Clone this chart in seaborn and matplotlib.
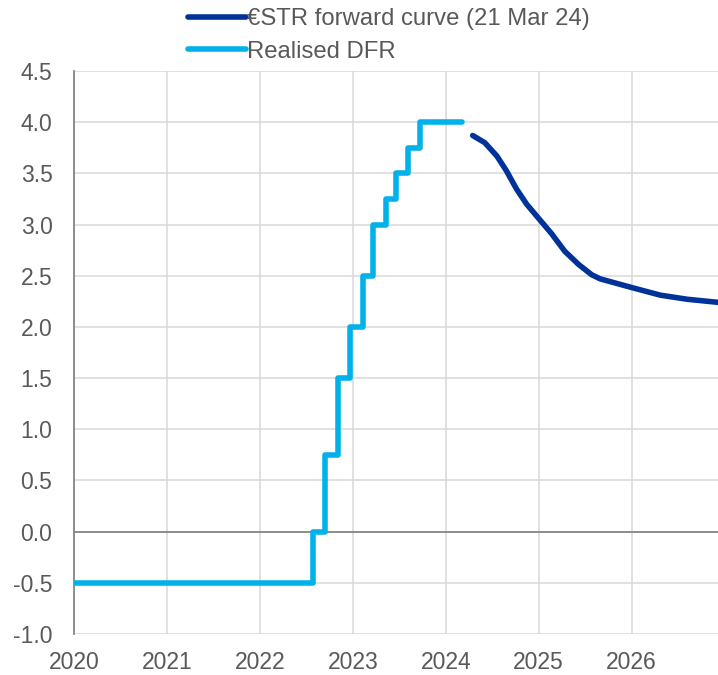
import matplotlib
matplotlib.use("Agg")
import matplotlib.pyplot as plt
import seaborn as sns
import pandas as pd

# Realised deposit facility rate (step changes, decimal years)
dfr_dates = [2020.0, 2022.57, 2022.70, 2022.84, 2022.97, 2023.11, 2023.22,
             2023.36, 2023.47, 2023.59, 2023.72, 2024.18]
dfr_rates = [-0.50, 0.00, 0.75, 1.50, 2.00, 2.50, 3.00,
             3.25, 3.50, 3.75, 4.00, 4.00]

# €STR forward curve (21 Mar 24)
fwd_dates = [2024.29, 2024.42, 2024.55, 2024.65, 2024.76, 2024.87, 2025.00,
             2025.14, 2025.28, 2025.43, 2025.57, 2025.66, 2025.74, 2026.02,
             2026.31, 2026.60, 2026.93]
fwd_rates = [3.87, 3.80, 3.67, 3.53, 3.35, 3.20, 3.06,
             2.91, 2.74, 2.61, 2.51, 2.47, 2.45, 2.38,
             2.31, 2.27, 2.24]

year_ticks = [2020, 2021, 2022, 2023, 2024, 2025, 2026]
y_ticks = [-1.0, -0.5, 0.0, 0.5, 1.0, 1.5, 2.0, 2.5, 3.0, 3.5, 4.0, 4.5]

DARK = "#003299"
LIGHT = "#00B1EA"
TXT = "#595959"
GRID = "#D9D9D9"
SPINE = "#868686"
FS = 16.5

sns.set_style("white")
plt.rcParams["font.family"] = ["Liberation Sans", "DejaVu Sans"]

fig = plt.figure(figsize=(7.18, 6.75), dpi=100)
ax = fig.add_axes([74 / 718, 1 - 634 / 675, 1 - 74 / 718, (634 - 71) / 675])

fwd = pd.DataFrame({"date": fwd_dates, "rate": fwd_rates})
dfr = pd.DataFrame({"date": dfr_dates, "rate": dfr_rates})

sns.lineplot(data=fwd, x="date", y="rate", ax=ax, color=DARK, lw=4.0,
             label="€STR forward curve (21 Mar 24)", solid_capstyle="round",
             solid_joinstyle="round", zorder=3)
sns.lineplot(data=dfr, x="date", y="rate", ax=ax, color=LIGHT, lw=4.0,
             drawstyle="steps-post", label="Realised DFR",
             solid_capstyle="round", zorder=3)

ax.set_xlim(2020, 2026.93)
ax.set_ylim(-1.0, 4.5)
ax.set_xlabel("")
ax.set_ylabel("")

ax.set_yticks(y_ticks)
ax.set_yticklabels([f"{v:.1f}" for v in y_ticks])
ax.set_xticks(year_ticks)

ax.grid(True, color=GRID, lw=1.1, zorder=0)
ax.set_axisbelow(True)

for s in ["top", "right"]:
    ax.spines[s].set_visible(False)
ax.spines["left"].set_color(SPINE)
ax.spines["left"].set_linewidth(1.3)
ax.spines["bottom"].set_position(("data", 0))
ax.spines["bottom"].set_color(SPINE)
ax.spines["bottom"].set_linewidth(1.3)

ax.tick_params(axis="y", direction="in", length=4, width=1.3, color=SPINE,
               labelsize=FS, labelcolor=TXT, pad=15.5)
ax.tick_params(axis="x", direction="out", length=5, width=1.3, color=SPINE,
               labelbottom=False)

sec = ax.secondary_xaxis(0)
sec.set_xticks(year_ticks)
sec.set_xticklabels([str(y) for y in year_ticks])
sec.spines["bottom"].set_visible(False)
sec.tick_params(axis="x", length=0, labelsize=FS, labelcolor=TXT, pad=12.5)

leg = ax.legend(loc="upper left", bbox_to_anchor=(188 / 718, 1 - 8 / 675),
                bbox_transform=fig.transFigure, frameon=False,
                fontsize=17.2, labelcolor=TXT, handlelength=2.42,
                handletextpad=0.05, labelspacing=0.45, borderaxespad=0,
                borderpad=0.0)
for h in leg.get_lines():
    h.set_linewidth(4.0)

fig.savefig("out.png", dpi=100)
